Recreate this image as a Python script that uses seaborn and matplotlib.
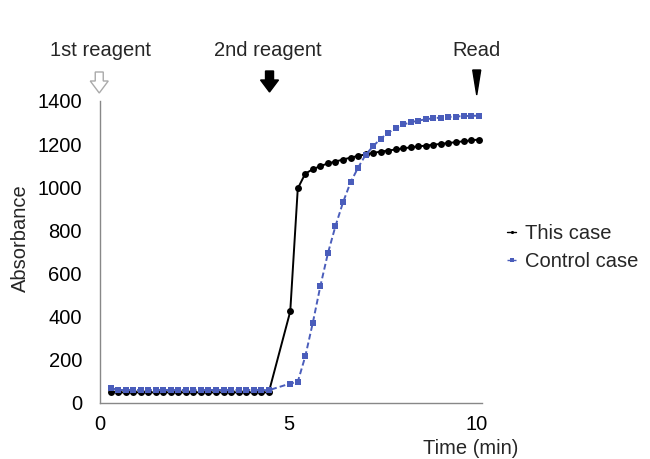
import numpy as np
import pandas as pd
import matplotlib
matplotlib.use("Agg")
import matplotlib.pyplot as plt
import seaborn as sns
from matplotlib.patches import Polygon
from matplotlib.transforms import blended_transform_factory

# ---- data ----
time_phase1 = [round(0.28 + 0.2 * i, 2) for i in range(22)]   # 0.28 .. 4.48
time_phase2 = [round(5.05 + 0.2 * i, 2) for i in range(26)]   # 5.05 .. 10.05
time_min = time_phase1 + time_phase2

this_case = [50, 47, 47, 47, 47, 47, 47, 47, 47, 47, 47, 47, 47, 47, 47, 47, 47, 47, 47, 47, 47, 47,
             423, 994, 1063, 1083, 1098, 1110, 1119, 1128, 1137, 1145, 1152, 1159, 1165,
             1170, 1175, 1180, 1185, 1189, 1193, 1197, 1201, 1205, 1209, 1213, 1217, 1221]
control_case = [68, 58, 58, 58, 58, 58, 58, 58, 58, 58, 58, 58, 58, 58, 58, 58, 58, 58, 58, 58, 58, 57,
                88, 96, 215, 371, 541, 693, 819, 929, 1022, 1090, 1150, 1190, 1225,
                1252, 1275, 1291, 1301, 1309, 1315, 1320, 1323, 1326, 1328, 1330, 1331, 1332]
series_names = ["This case", "Control case"]
y_ticks = [0, 200, 400, 600, 800, 1000, 1200, 1400]
x_ticks = [0, 5, 10]
event_labels = ["1st reagent", "2nd reagent", "Read"]
event_times = [0.0, 4.45, 10.0]

df = pd.DataFrame({
    "Time": time_min * 2,
    "Absorbance": this_case + control_case,
    "Series": [series_names[0]] * len(time_min) + [series_names[1]] * len(time_min),
})

sns.set_style("white")
plt.rcParams["font.family"] = ["Liberation Sans", "DejaVu Sans"]
FS = 14.5

fig = plt.figure(figsize=(6.5, 4.59), dpi=100)
ax = fig.add_axes([100 / 650, 1 - 402.5 / 459, 382 / 650, 301.5 / 459])

blue = "#4A5DBB"
sns.lineplot(data=df, x="Time", y="Absorbance", hue="Series", style="Series",
             palette={series_names[0]: "black", series_names[1]: blue},
             markers={series_names[0]: "o", series_names[1]: "s"},
             dashes={series_names[0]: "", series_names[1]: (3, 1.6)},
             markersize=5, markeredgewidth=0, linewidth=1.4, ax=ax, legend=True)

ax.set_xlim(0, 10.14)
ax.set_ylim(0, 1400)
ax.set_xticks(x_ticks)
ax.set_yticks(y_ticks)
ax.tick_params(axis="both", labelsize=FS, colors="black")
ax.tick_params(axis="y", length=0, pad=13)
ax.tick_params(axis="x", length=3, direction="in", color="#999999", pad=9)

for s in ["top", "right"]:
    ax.spines[s].set_visible(False)
for s in ["left", "bottom"]:
    ax.spines[s].set_color("#888888")
    ax.spines[s].set_linewidth(1.0)

ax.set_xlabel("Time (min)", fontsize=FS, ha="right", va="center")
ax.xaxis.set_label_coords(1.094, -0.151)
ax.set_ylabel("Absorbance", fontsize=FS, va="center")
ax.yaxis.set_label_coords(-0.209, 0.546)

# legend
handles, labels = ax.get_legend_handles_labels()
for h in handles:
    h.set_linewidth(1.0)
leg = ax.legend(handles, labels, loc="upper left", bbox_to_anchor=(507 / 650, 1 - 224 / 459),
                bbox_transform=fig.transFigure, frameon=False, fontsize=FS,
                handlelength=0.45, handletextpad=0.45, labelspacing=0.45, markerscale=0.45,
                borderaxespad=0, borderpad=0)

# event annotations
trans = blended_transform_factory(ax.transData, ax.transAxes)
px = 1 / 37.67  # one pixel in minutes
py = 1 / 301.5  # one pixel in axes fraction
for lab, t in zip(event_labels, event_times):
    ax.text(t, 1.169, lab, transform=trans, ha="center", va="center", fontsize=FS, clip_on=False)

def block_arrow(xc, top_px, neck_px, bottom_px, fc, ec):
    tw, hw = 4 * px, 9 * px
    ytop = (402.5 - top_px) * py
    ymid = (402.5 - neck_px) * py
    ybot = (402.5 - bottom_px) * py
    verts = [(xc - tw, ytop), (xc + tw, ytop), (xc + tw, ymid), (xc + hw, ymid),
             (xc, ybot), (xc - hw, ymid), (xc - tw, ymid)]
    ax.add_patch(Polygon(verts, closed=True, transform=trans, clip_on=False,
                         facecolor=fc, edgecolor=ec, linewidth=1.0))

block_arrow(event_times[0] - 0.02, 72, 81, 93, "white", "#aaaaaa")
block_arrow(event_times[1] + 0.05, 71, 80, 92, "black", "black")
tri = [(event_times[2] - 4 * px, (402.5 - 70) * py), (event_times[2] + 4 * px, (402.5 - 70) * py),
       (event_times[2], (402.5 - 95) * py)]
ax.add_patch(Polygon(tri, closed=True, transform=trans, clip_on=False, facecolor="black", edgecolor="black"))

fig.savefig("out.png", dpi=100)
